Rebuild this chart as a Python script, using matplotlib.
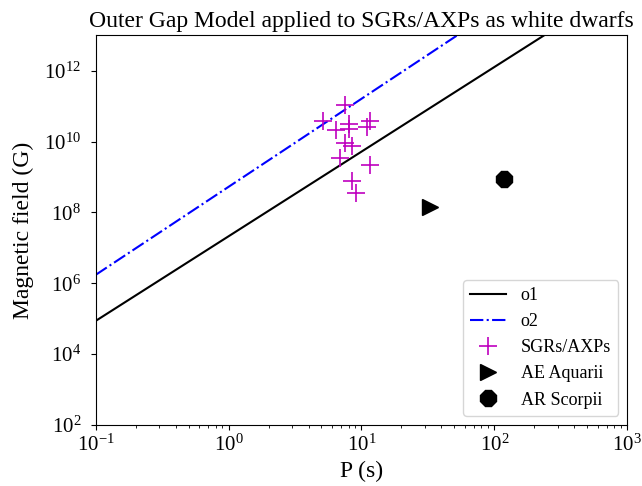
import numpy as np
import matplotlib
matplotlib.use("Agg")
import matplotlib.pyplot as plt

plt.rcParams['font.family'] = 'serif'
plt.rcParams['font.serif'] = ['Liberation Serif', 'DejaVu Serif']
plt.rcParams['mathtext.fontset'] = 'stix'
plt.rcParams['font.size'] = 15

# outer gap lines (end points)
o1_P = [0.1, 236.0]
o1_B = [8.6e4, 1e13]
o2_P = [0.1, 52.4]
o2_B = [1.72e6, 1e13]

# SGRs/AXPs
sgr_P = [7.55, 5.15, 8.09, 11.65, 11.06, 6.46, 8.09, 7.55, 8.53, 6.92, 11.65, 8.53, 9.14]
sgr_B = [1.08e11, 3.83e10, 3.15e10, 3.83e10, 2.59e10, 2.13e10, 2.27e10,
         9.2e9, 7.5e9, 3.45e9, 2.19e9, 7.7e8, 3.55e8]

# white dwarf pulsars
aeaqr_P, aeaqr_B = [33.0], [1.4e8]
arsco_P, arsco_B = [119.0], [8.8e8]

fig = plt.figure(figsize=(6.42, 4.86), dpi=100)
ax = fig.add_subplot(111)
fig.subplots_adjust(left=0.149, right=0.977, top=0.927, bottom=0.126)

ax.plot(o1_P, o1_B, 'k-', lw=1.5, label='o1')
ax.plot(o2_P, o2_B, 'b-.', lw=1.5, label='o2')
ax.plot(sgr_P, sgr_B, 'm+', ms=13, mew=1.2, ls='none', label='SGRs/AXPs')
ax.plot(aeaqr_P, aeaqr_B, 'k>', ms=12, ls='none', label='AE Aquarii')
ax.plot(arsco_P, arsco_B, 'k8', ms=12, ls='none', label='AR Scorpii')

ax.set_xscale('log')
ax.set_yscale('log')
ax.set_xlim(0.1, 1000)
ax.set_ylim(1e2, 1e13)
ax.set_yticks([1e2, 1e4, 1e6, 1e8, 1e10, 1e12])
ax.tick_params(axis='y', pad=7)
ax.set_xlabel('P (s)', fontsize=17)
ax.set_ylabel('Magnetic field (G)', fontsize=17, labelpad=7)
ax.set_title('Outer Gap Model applied to SGRs/AXPs as white dwarfs', fontsize=17)
ax.legend(loc='lower right', fontsize=13)

fig.savefig('out.png', dpi=100)
